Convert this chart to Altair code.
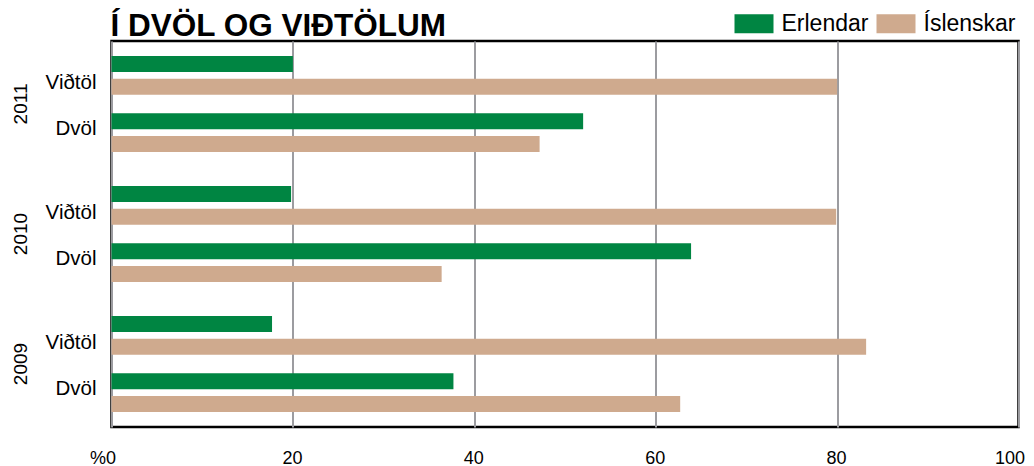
import altair as alt
import pandas as pd

# ---- data ----
years = ["2011", "2010", "2009"]
categories = ["Viðtöl", "Dvöl"]
series = ["Erlendar", "Íslenskar"]
colors = ["#008542", "#CFAA8E"]

erlendar_vidtol = [20.0, 19.8, 17.7]
erlendar_dvol = [52.0, 63.9, 37.7]
islenskar_vidtol = [80.0, 79.9, 83.2]
islenskar_dvol = [47.2, 36.4, 62.7]

x_ticks = [0, 20, 40, 60, 80, 100]
title_text = "Í DVÖL OG VIÐTÖLUM"

FONT = "Liberation Sans"

# sub-slot order inside each year band (gaps are empty slots)
slot_domain = [
    "Viðtöl|Erlendar", "Viðtöl|·", "Viðtöl|Íslenskar", "·1", "·2",
    "Dvöl|Erlendar", "Dvöl|·", "Dvöl|Íslenskar",
]
label_slot = {"Viðtöl": "Viðtöl|·", "Dvöl": "Dvöl|Erlendar"}

values = {
    ("Erlendar", "Viðtöl"): erlendar_vidtol,
    ("Erlendar", "Dvöl"): erlendar_dvol,
    ("Íslenskar", "Viðtöl"): islenskar_vidtol,
    ("Íslenskar", "Dvöl"): islenskar_dvol,
}

rows = []
for i, yr in enumerate(years):
    for cat in categories:
        for s in series:
            rows.append({"year": yr, "cat": cat, "series": s,
                         "value": values[(s, cat)][i],
                         "slot": f"{cat}|{s}"})
bars_df = pd.DataFrame(rows)

labels_df = pd.DataFrame([
    {"year": yr, "cat": cat, "slot": label_slot[cat]}
    for yr in years for cat in categories
])

x_scale = alt.Scale(domain=[0, 100], nice=False, zero=True)
y_scale = alt.Scale(domain=years, paddingInner=0.297, paddingOuter=0.133)
yoff_scale = alt.Scale(domain=slot_domain, paddingInner=0, paddingOuter=0)

x_axis = alt.Axis(
    values=x_ticks, title=None, grid=True, ticks=False, domain=False,
    labelFlush=False,
    labelExpr="datum.value == 0 ? '%0' : datum.label",
    labelFontSize=18, labelFont=FONT, labelColor="#000000",
    labelPadding=22, labelBaseline="top",
    labelAlign={"condition": {"test": "datum.value == 100", "value": "right"},
                "value": "center"},
    labelOffset={"condition": [
        {"test": "datum.value == 0", "value": -9},
        {"test": "datum.value == 100", "value": 6},
    ], "value": -1},
    gridColor="#9c9ca0", gridWidth=2,
)
y_axis = alt.Axis(
    title=None, ticks=False, tickSize=0, domain=False, grid=False,
    labelAngle=270, labelAlign="center", labelBaseline="alphabetic",
    labelPadding=85, labelFontSize=19, labelFont=FONT, labelColor="#000000",
)

bars = alt.Chart(bars_df).mark_bar(size=16).encode(
    x=alt.X("value:Q", scale=x_scale, axis=x_axis),
    y=alt.Y("year:N", scale=y_scale, axis=y_axis, sort=years),
    yOffset=alt.YOffset("slot:N", scale=yoff_scale, sort=slot_domain),
    color=alt.Color(
        "series:N",
        scale=alt.Scale(domain=series, range=colors),
        legend=alt.Legend(
            title=None, orient="none", legendX=623, legendY=-37,
            direction="horizontal", columns=2,
            symbolType="M-1,-0.487L1,-0.487L1,0.487L-1,0.487Z",
            symbolSize=1521, symbolStrokeWidth=0, symbolOpacity=1,
            labelFontSize=23, labelFont=FONT, labelColor="#000000",
            labelOffset=8, columnPadding=8,
        ),
    ),
)

labels = alt.Chart(labels_df).mark_text(
    align="right", baseline="middle", dx=-15, dy=7.5,
    fontSize=20.5, font=FONT, color="#000000",
).encode(
    x=alt.datum(0),
    y=alt.Y("year:N", sort=years),
    yOffset=alt.YOffset("slot:N", sort=slot_domain),
    text="cat:N",
)

chart = alt.layer(bars, labels).properties(
    width=907, height=386,
    title=alt.TitleParams(
        title_text, anchor="start", frame="group", fontSize=31.5, font=FONT,
        fontWeight="bold", color="#000000", offset=1.5, dx=-1, dy=40,
    ),
    padding={"left": 103.5, "top": 33, "right": 7.5, "bottom": 40},
    autosize=alt.AutoSizeParams(type="none"),
).configure_view(
    stroke="#000000", strokeWidth=2.5,
)

chart.save("out.html", embed_options={"renderer": "svg", "actions": False})
